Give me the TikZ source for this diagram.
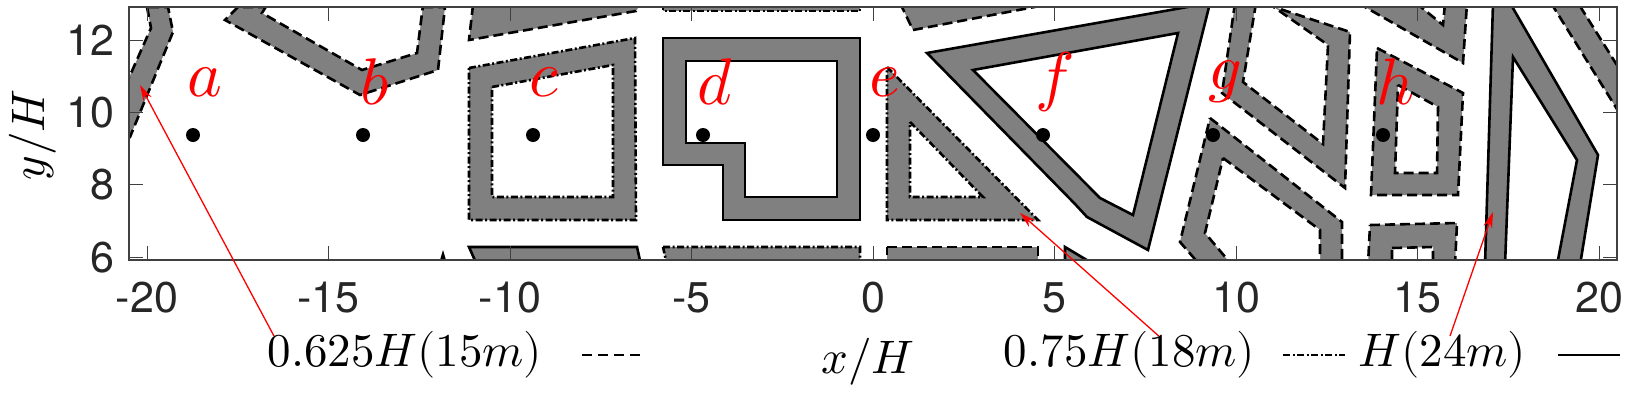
\documentclass[tikz,border=0pt]{standalone}
\usepackage{fontspec}
\usepackage{unicode-math}
\setsansfont{TeX Gyre Heros}
\usetikzlibrary{arrows.meta}
\definecolor{bgray}{RGB}{128,128,128}
\begin{document}
\begin{tikzpicture}[x=1pt,y=-1pt,
  bld/.style={fill=bgray,draw=black,line width=2.6pt,line join=miter},
  yard/.style={fill=white,draw=black,line width=2.6pt},
  lo/.style={dash pattern=on 10pt off 5pt},
  mid/.style={dash pattern=on 7pt off 2.5pt on 2pt off 2.5pt},
  hi/.style={},
  tick/.style={font=\sffamily\fontsize{43}{43}\selectfont,text=black!85},
  lab/.style={text=red,font=\fontsize{66}{66}\selectfont},
  leg/.style={font=\fontsize{47}{47}\selectfont},
  ptr/.style={red,line width=1.3pt,-{Stealth[length=16pt,width=9pt]}}]
\useasboundingbox (0,0) rectangle (1630,400);
\begin{scope}
\clip (129,7) rectangle (1617,260);
% a
\path[bld,lo] (147,7) -- (151,28) -- (128,80) -- (128,137) -- (130,137) -- (173,32) -- (168,7) -- cycle;
% b
\path[bld,lo] (238,7) -- (225,20) -- (360,95) -- (438,70) -- (445,7) -- cycle;
\path[yard,lo] (267,5) -- (262,13) -- (362,70) -- (417,53) -- (423,5) -- cycle;
\path[bld,lo] (473,5) -- (469,40) -- (636,11) -- (640,5) -- cycle;
% c
\path[bld,mid] (469,68) -- (635,38) -- (636,220) -- (469,220) -- cycle;
\path[yard,mid] (492,87) -- (613,65) -- (613,197) -- (492,197) -- cycle;
\path[bld,mid] (663,3) -- (663,11) -- (860,11) -- (860,3) -- cycle;
% d
\path[bld,hi] (663,38) -- (860,38) -- (860,220) -- (723,220) -- (723,165) -- (663,165) -- cycle;
\path[yard,hi] (686,61) -- (837,61) -- (837,197) -- (745,197) -- (745,143) -- (686,143) -- cycle;
% e
\path[bld,mid] (887,67) -- (1038,220) -- (887,220) -- cycle;
\path[yard,mid] (910,122) -- (983,197) -- (910,197) -- cycle;
\path[bld,lo] (900,3) -- (913,30) -- (1045,5) -- cycle;
% f
\path[bld,hi] (927,53) -- (1210,3) -- (1148,250) -- (1087,217) -- (1075,204) -- cycle;
\path[yard,hi] (973,70) -- (1178,33) -- (1133,215) -- (1100,198) -- cycle;
% g top
\path[bld,lo] (1235,3) -- (1222,93) -- (1345,188) -- (1350,32) -- (1262,3) -- cycle;
\path[yard,lo] (1256,3) -- (1243,82) -- (1323,144) -- (1328,45) -- (1268,3) -- cycle;
% g bottom
\path[bld,lo] (1210,118) -- (1342,222) -- (1342,265) -- (1200,265) -- (1180,242) -- cycle;
\path[yard,lo] (1223,158) -- (1320,230) -- (1320,265) -- (1232,265) -- (1205,233) -- cycle;
% h
\path[bld,lo] (1377,48) -- (1463,93) -- (1458,195) -- (1371,195) -- cycle;
\path[yard,lo] (1398,85) -- (1438,107) -- (1437,173) -- (1395,173) -- cycle;
\path[bld,lo] (1358,3) -- (1463,63) -- (1467,3) -- cycle;
\path[yard,lo] (1416,3) -- (1443,25) -- (1445,3) -- cycle;
\path[bld,lo] (1370,225) -- (1457,223) -- (1455,265) -- (1368,265) -- cycle;
\path[yard,lo] (1392,248) -- (1433,247) -- (1433,265) -- (1392,265) -- cycle;
% right solid
\path[bld,hi] (1493,3) -- (1485,265) -- (1580,265) -- (1598,155) -- (1510,3) -- cycle;
\path[yard,hi] (1513,57) -- (1577,160) -- (1557,265) -- (1505,265) -- cycle;
\path[bld,lo] (1551,3) -- (1620,114) -- (1620,70) -- (1578,3) -- cycle;
% bottom row
\path[bld,hi] (469,247) -- (637,247) -- (641,265) -- (477,265) -- cycle;
\path[bld,mid] (663,247) -- (860,247) -- (860,265) -- (667,265) -- cycle;
\path[bld,lo] (887,247) -- (1038,247) -- (1038,265) -- (887,265) -- cycle;
\path[bld,hi] (1065,247) -- (1095,265) -- (1065,265) -- cycle;
\fill (440,260) -- (443,250) -- (446,260) -- cycle;
\end{scope}
% axes box and ticks
\draw[black!75,line width=1.2pt] (129,7) rectangle (1617,260);
\foreach \i in {-20,-15,...,20} {
  \draw[black!75,line width=1pt] ({873+36.3*\i},260) -- ++(0,-14);
  \draw[black!75,line width=1pt] ({873+36.3*\i},7) -- ++(0,14);
  \node[tick] (xt\i) at ({873+36.3*\i},298) {\i};}
\foreach \j in {6,8,10,12} {
  \draw[black!75,line width=1pt] (129,{40+36.2*(12-\j)}) -- ++(14,0);
  \draw[black!75,line width=1pt] (1617,{40+36.2*(12-\j)}) -- ++(-14,0);
  \node[tick,anchor=east] (yt\j) at (118,{40+36.2*(12-\j)}) {\j};}
\node[leg,rotate=90] (ylab) at (33,135) {$y/H$};
\node[leg] (xlab) at (868,362) {$x/H$};
% sample points
\foreach \n/\x/\l in {a/193/a,b/363/b,c/533/c,d/703/d,e/873/e,f/1043/f,g/1213/g,h/1383/h} {
  \fill (\x,135) circle (7pt);
  \node[lab] (L\n) at (\x+12,82) {$\l$};}
% legend
\node[leg,anchor=west] (l1) at (264,355) {$0.625H(15m)$};
\draw[line width=2.6pt,dash pattern=on 10pt off 6pt] (582,355) -- (644,355);
\node[leg,anchor=west] (l2) at (1000,355) {$0.75H(18m)$};
\draw[line width=2.6pt,mid] (1283,355) -- (1345,355);
\node[leg,anchor=west] (l3) at (1355,355) {$H(24m)$};
\draw[line width=2.6pt] (1558,355) -- (1620,355);
\coordinate (p1) at (140,85);
\coordinate (p2) at (1020,213);
\coordinate (p3) at (1493,212);
\draw[ptr] (l1.north west) ++(10,8) -- (p1);
\draw[ptr] (l2.north east) ++(-100,8) -- (p2);
\draw[ptr] (l3.north west) ++(95,8) -- (p3);
\end{tikzpicture}
\end{document}
